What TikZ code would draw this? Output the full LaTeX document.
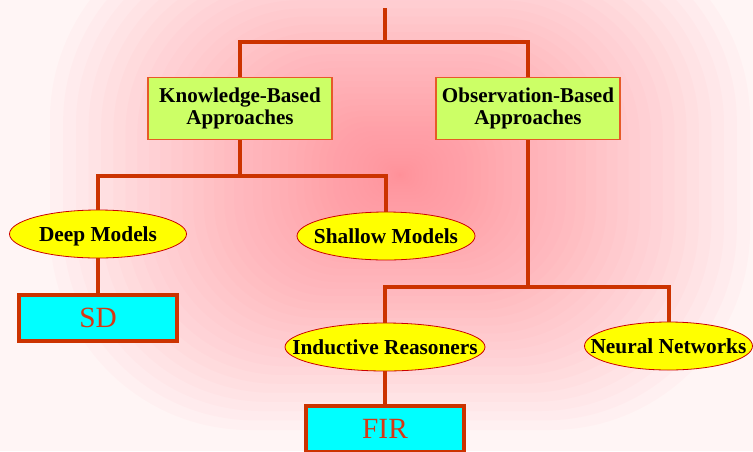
\documentclass[tikz,border=0pt]{standalone}
\usepackage{fontspec}
\setmainfont{Liberation Serif}
\usetikzlibrary{shapes.geometric}
\definecolor{linered}{RGB}{204,51,0}
\definecolor{boxgreen}{RGB}{204,255,102}
\definecolor{boxborder}{RGB}{230,90,40}
\definecolor{txtred}{RGB}{215,55,20}
\definecolor{toolcyan}{RGB}{0,255,255}
\definecolor{catyellow}{RGB}{255,255,0}
\definecolor{bgedge}{RGB}{255,245,245}
\definecolor{bgpink}{RGB}{255,135,145}
\newcommand\zw[1]{\makebox[0pt][c]{#1}}
\tikzset{
  conn/.style={draw=linered, line width=3pt},
  apbox/.style={draw=boxborder, line width=0.9pt, fill=boxgreen, align=center,
    font=\fontsize{15.8}{16.5}\selectfont\bfseries, inner sep=0pt,
    minimum width=138pt, minimum height=47pt},
  cat/.style={ellipse, draw=red!80!black, line width=0.6pt, fill=catyellow, inner sep=0pt,
    font=\fontsize{16}{17}\selectfont\bfseries, minimum height=36pt, text depth=0pt},
  tool/.style={draw=linered, line width=3pt, fill=toolcyan, inner sep=0pt,
    text=txtred, font=\fontsize{22}{24}\selectfont,
    minimum width=118.5pt, minimum height=34.5pt}
}
\begin{document}
\begin{tikzpicture}[x=0.75pt,y=-0.75pt]
\useasboundingbox (0,0) rectangle (753,451);
\clip (0,0) rectangle (753,451);
\fill[bgedge] (0,0) rectangle (753,451);
\foreach \t in {0,...,44}{
  \pgfmathsetmacro\s{(1-\t/45)^1.7}
  \pgfmathsetmacro\r{\s*150}
  \fill[bgpink, fill opacity=0.04, rounded corners=\r pt]
    ({400-350*\s},{175-255*\s}) rectangle ({400+350*\s},{175+255*\s});
}

% nodes
\node[apbox] (kb) at (240,108.5) {Knowledge-Based\\Approaches};
\node[apbox] (ob) at (528,108.5) {Observation-Based\\Approaches};
\node[cat, minimum width=132.75pt] (deep) at (98,234) {\zw{Deep Models}};
\node[cat, minimum width=133.5pt] (shallow) at (386,236) {\zw{Shallow Models}};
\node[cat, minimum width=150pt] (ind) at (385,347) {\zw{Inductive Reasoners}};
\node[cat, minimum width=126pt] (nn) at (668.5,346) {\zw{Neural Networks}};
\node[tool] (sd) at (98,317.5) {SD};
\node[tool] (fir) at (385,429) {FIR};

% connectors
\coordinate (top) at (385,8);
\coordinate (j0) at (385,42);
\coordinate (j1) at (240,176);
\coordinate (j2) at (528,287);
\draw[conn] (top) -- (j0);
\draw[conn] (j0) -| (kb.north);
\draw[conn] (j0) -| (ob.north);
\draw[conn] (kb.south) -- (j1);
\draw[conn] (j1) -| (deep.north);
\draw[conn] (j1) -| (shallow.north);
\draw[conn] (deep.south) -- (sd.north);
\draw[conn] (ob.south) -- (j2);
\draw[conn] (j2) -| (ind.north);
\draw[conn] (j2) -| (nn.north);
\draw[conn] (ind.south) -- (fir.north);
\end{tikzpicture}
\end{document}
